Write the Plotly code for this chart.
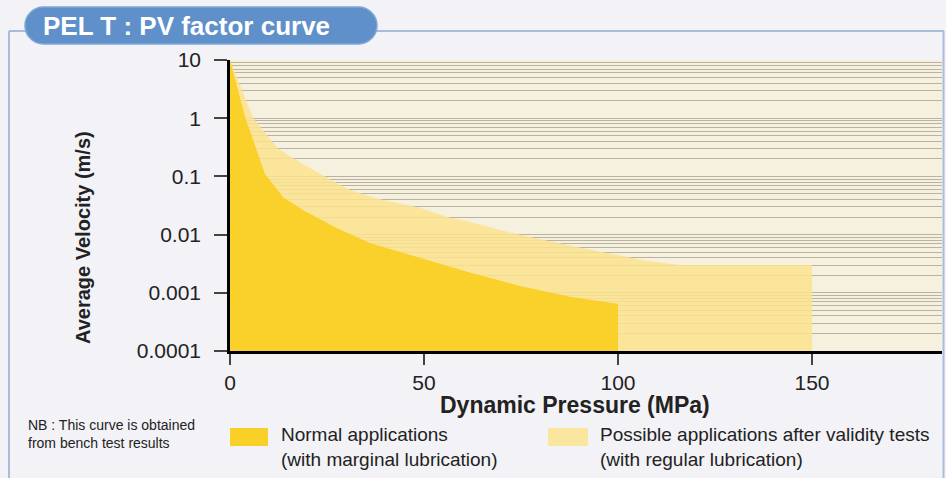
import plotly.graph_objects as go

# ---- data ----
V_MIN = 0.0001  # bottom of the velocity axis (curves are filled down to it)

normal_pressure = [0, 4, 9, 13.7, 19, 27.5, 36, 49, 62, 75, 88, 100]
normal_velocity = [10, 1.0, 0.11, 0.044, 0.026, 0.013, 0.0072, 0.0040, 0.0022, 0.0013, 0.00085, 0.00065]

possible_pressure = [0, 6, 12.4, 19.3, 30, 37.5, 49, 56, 62, 73, 90, 107, 116, 150]
possible_velocity = [10, 1.0, 0.30, 0.155, 0.062, 0.042, 0.029, 0.020, 0.0165, 0.0105, 0.006, 0.0036, 0.003, 0.003]

y_tickvals = [0.0001, 0.001, 0.01, 0.1, 1, 10]
y_ticktext = ["0.0001", "0.001", "0.01", "0.1", "1", "10"]
x_tickvals = [0, 50, 100, 150]
x_ticktext = ["0", "50", "100", "150"]

# ---- layout geometry (pixels) ----
W, H = 946, 478
L, R, T, B = 230, 4, 60, 127
PW, PH = W - L - R, H - T - B

def px(x):
    return (x - L) / PW

def py(y):
    return (H - B - y) / PH

FONT = "Liberation Sans, Arial, Helvetica, sans-serif"
NARROW = "Liberation Sans Narrow, Arial Narrow, Liberation Sans, Arial, sans-serif"

def closed(xs, ys):
    return xs + [xs[-1], xs[0]], ys + [V_MIN, V_MIN]

fig = go.Figure()
xp, yp = closed(possible_pressure, possible_velocity)
fig.add_trace(go.Scatter(x=xp, y=yp, fill="toself", mode="lines",
                         line=dict(width=0), fillcolor="rgba(252,227,143,0.85)",
                         hoverinfo="skip", showlegend=False))
xn, yn = closed(normal_pressure, normal_velocity)
fig.add_trace(go.Scatter(x=xn, y=yn, fill="toself", mode="lines",
                         line=dict(width=0), fillcolor="rgba(248,206,30,0.9)",
                         hoverinfo="skip", showlegend=False))

grid = "rgb(186,178,162)"
fig.update_yaxes(type="log", range=[-4, 1], tickvals=y_tickvals, ticktext=y_ticktext,
                 showgrid=True, gridcolor=grid, gridwidth=1.2,
                 minor=dict(dtick="D1", showgrid=True, gridcolor=grid, gridwidth=1.2, ticks=""),
                 ticks="outside", ticklen=13, tickwidth=1.5, tickcolor="#444",
                 showline=True, linecolor="black", linewidth=2.5,
                 tickfont=dict(family=FONT, size=21, color="#222"),
                 ticklabelstandoff=9, zeroline=False)
fig.update_xaxes(range=[0, 183.5], tickvals=x_tickvals, ticktext=x_ticktext,
                 showgrid=False, zeroline=False,
                 ticks="outside", ticklen=11, tickwidth=1.5, tickcolor="#444",
                 showline=True, linecolor="black", linewidth=2.5,
                 tickfont=dict(family=FONT, size=21, color="#222"))

frame = "#a9bdda"
shapes = [
    # outer frame
    dict(type="line", xref="paper", yref="paper", x0=px(9), x1=px(9), y0=py(31), y1=py(478),
         line=dict(color=frame, width=2)),
    dict(type="line", xref="paper", yref="paper", x0=px(9), x1=px(30), y0=py(31), y1=py(31),
         line=dict(color=frame, width=2)),
    dict(type="line", xref="paper", yref="paper", x0=px(370), x1=px(944), y0=py(31), y1=py(31),
         line=dict(color=frame, width=2)),
    dict(type="line", xref="paper", yref="paper", x0=px(943.5), x1=px(943.5), y0=py(31), y1=py(478),
         line=dict(color=frame, width=2)),
    # legend swatches
    dict(type="rect", xref="paper", yref="paper", x0=px(230), x1=px(268), y0=py(428), y1=py(446),
         fillcolor="rgb(248,208,40)", line=dict(width=0)),
    dict(type="rect", xref="paper", yref="paper", x0=px(548), x1=px(588), y0=py(428), y1=py(446),
         fillcolor="rgb(251,230,160)", line=dict(width=0)),
]

# rounded title pill
x0, x1, y0, y1 = 25, 377, 7, 44
r = (y1 - y0) / 2
k = 0.5523 * r
def P(x, y):
    return f"{px(x):.5f},{py(y):.5f}"
path = (f"M {P(x0 + r, y0)} L {P(x1 - r, y0)} "
        f"C {P(x1 - r + k, y0)} {P(x1, y0 + r - k)} {P(x1, y0 + r)} "
        f"C {P(x1, y1 - r + k)} {P(x1 - r + k, y1)} {P(x1 - r, y1)} "
        f"L {P(x0 + r, y1)} "
        f"C {P(x0 + r - k, y1)} {P(x0, y1 - r + k)} {P(x0, y1 - r)} "
        f"C {P(x0, y0 + r - k)} {P(x0 + r - k, y0)} {P(x0 + r, y0)} Z")
shapes.append(dict(type="path", xref="paper", yref="paper", path=path,
                   fillcolor="#5f90c9", line=dict(color="#7ea6d6", width=1.5)))

def ann(text, x, y, size, bold=False, xanchor="left", family=FONT, color="#222", angle=0):
    return dict(text=f"<b>{text}</b>" if bold else text, x=px(x), y=py(y), xref="paper", yref="paper",
                xanchor=xanchor, yanchor="middle", showarrow=False, textangle=angle,
                font=dict(family=family, size=size, color=color), align="left")

annotations = [
    ann("PEL T : PV factor curve", 41, 26, 26, bold=True, color="white"),
    ann("Average Velocity (m/s)", 83, 238, 20, bold=True, xanchor="center", angle=-90),
    ann("Dynamic Pressure (MPa)", 575, 405, 23, bold=True, xanchor="center"),
    ann("NB : This curve is obtained<br>from bench test results", 26, 434, 14, family=NARROW),
    ann("Normal applications<br>(with marginal lubrication)", 279, 447, 19),
    ann("Possible applications after validity tests<br>(with regular lubrication)", 598, 447, 19),
]

fig.update_layout(width=W, height=H, autosize=False,
                  margin=dict(l=L, r=R, t=T, b=B, pad=0),
                  paper_bgcolor="#f2f2f7", plot_bgcolor="#f6f1de",
                  shapes=shapes, annotations=annotations, showlegend=False,
                  font=dict(family=FONT))

fig.write_html("out.html", config={"displayModeBar": False},
               post_script="document.body.style.margin='0px';document.body.style.padding='0px';"
                           "document.body.style.overflow='hidden';")
